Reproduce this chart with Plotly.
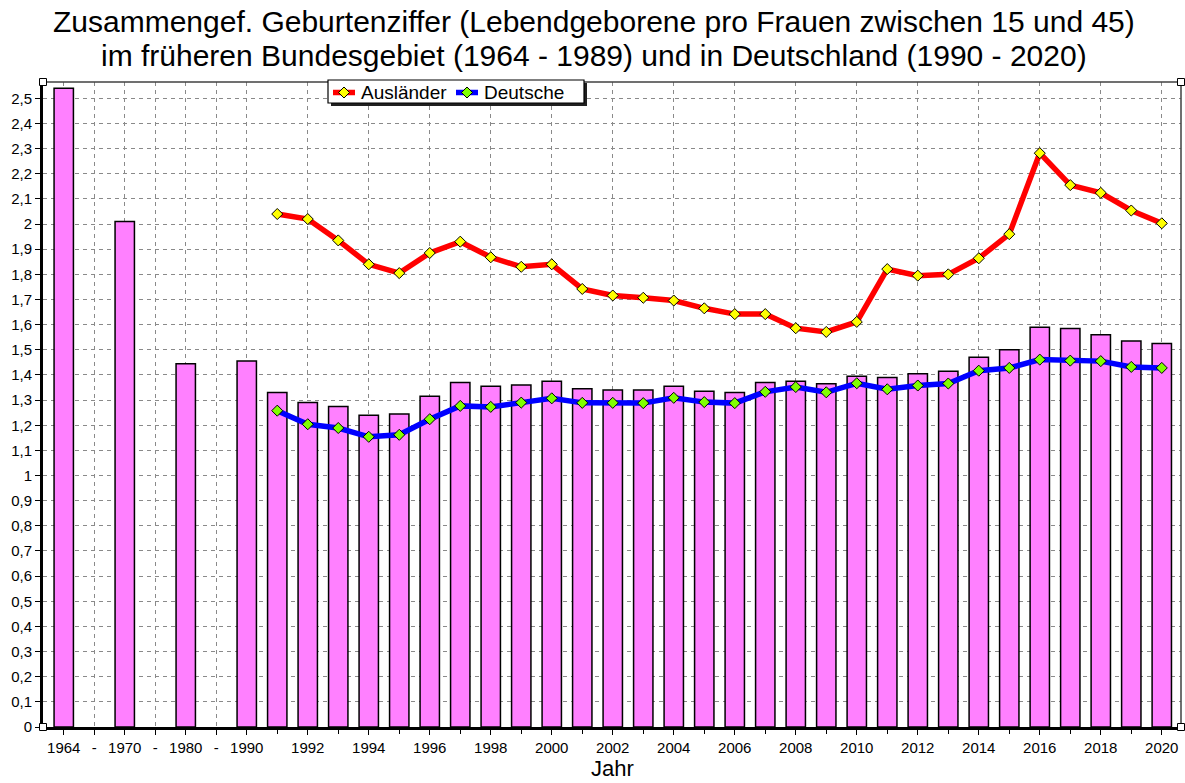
import plotly.graph_objects as go

# ---- data ----
categories = ["1964", "-", "1970", "-", "1980", "-", "1990",
              "1991", "1992", "1993", "1994", "1995", "1996", "1997", "1998", "1999", "2000",
              "2001", "2002", "2003", "2004", "2005", "2006", "2007", "2008", "2009", "2010",
              "2011", "2012", "2013", "2014", "2015", "2016", "2017", "2018", "2019", "2020"]

gesamt = [2.54, None, 2.01, None, 1.445, None, 1.455,
          1.33, 1.29, 1.275, 1.24, 1.245, 1.315, 1.37, 1.355, 1.36, 1.375,
          1.345, 1.34, 1.34, 1.355, 1.335, 1.33, 1.37, 1.375, 1.365, 1.395,
          1.39, 1.405, 1.415, 1.47, 1.50, 1.59, 1.585, 1.56, 1.535, 1.525]

line_years = categories[7:]
auslaender = [2.04, 2.02, 1.935, 1.84, 1.805, 1.885, 1.93, 1.868, 1.83, 1.84,
              1.742, 1.716, 1.707, 1.696, 1.665, 1.642, 1.642, 1.586, 1.571, 1.611,
              1.821, 1.795, 1.80, 1.864, 1.96, 2.282, 2.155, 2.124, 2.054, 2.003]
deutsche = [1.258, 1.204, 1.189, 1.154, 1.162, 1.224, 1.277, 1.273, 1.29, 1.307,
            1.289, 1.289, 1.288, 1.309, 1.292, 1.288, 1.333, 1.352, 1.331, 1.367,
            1.343, 1.358, 1.366, 1.417, 1.428, 1.461, 1.457, 1.455, 1.432, 1.428]

series_names = ["Ausländer", "Deutsche"]
y_ticks = [round(i * 0.1, 1) for i in range(26)]

title_lines = ["Zusammengef. Geburtenziffer (Lebendgeborene pro Frauen zwischen 15 und 45)",
               "im früheren Bundesgebiet (1964 - 1989) und in Deutschland (1990 - 2020)"]
x_title = "Jahr"

# ---- positions derived from the category list ----
xpos = list(range(len(categories)))
line_x = [categories.index(y) for y in line_years]
tick_idx = [i for i in xpos if i <= 6 or (i > 6 and int(categories[i]) % 2 == 0)]
tick_txt = [categories[i] for i in tick_idx]

W, H = 1185, 783
ML, MR, MT, MB = 43, 4, 82, 56
PW, PH = W - ML - MR, H - MT - MB

line_colors = ["#FF0000", "#0000FF"]
marker_colors = ["#FFFF00", "#80FF00"]

fig = go.Figure()
fig.add_trace(go.Bar(
    x=xpos, y=gesamt, width=0.635, showlegend=False, name="Gesamt",
    marker=dict(color="#FF80FF", line=dict(color="#000000", width=1.5)),
))
for name, vals, lc, mc in zip(series_names, [auslaender, deutsche], line_colors, marker_colors):
    fig.add_trace(go.Scatter(
        x=line_x, y=vals, mode="lines+markers", name=name, showlegend=False,
        line=dict(color=lc, width=5.5),
        marker=dict(symbol="diamond", size=8.5, color=mc, line=dict(color="#000000", width=1)),
    ))

font_family = "Liberation Sans, Arial, sans-serif"


def px2x(px):
    return (px - ML) / PW


def py2y(py):
    return (H - MB - py) / PH


shapes = []
# top and right frame lines
shapes.append(dict(type="line", xref="paper", yref="paper", x0=0, x1=1, y0=1, y1=1,
                   line=dict(color="#404040", width=1.5), layer="above"))
shapes.append(dict(type="line", xref="paper", yref="paper", x0=1, x1=1, y0=0, y1=1,
                   line=dict(color="#404040", width=1.5), layer="above"))
# corner squares
for cx, cy in [(0, 0), (0, 1), (1, 0), (1, 1)]:
    shapes.append(dict(type="rect", xref="paper", yref="paper",
                       xsizemode="pixel", ysizemode="pixel", xanchor=cx, yanchor=cy,
                       x0=-3.5, x1=3.5, y0=-3.5, y1=3.5,
                       fillcolor="white", line=dict(color="black", width=1), layer="above"))

# legend box (drawn as shapes so it matches the compact original)
lx0, lx1, ly0, ly1 = 328, 584, 80, 103
shapes.append(dict(type="rect", xref="paper", yref="paper",
                   x0=px2x(lx0 + 3), x1=px2x(lx1 + 3), y0=py2y(ly1 + 3), y1=py2y(ly0 + 3),
                   fillcolor="#202020", line=dict(width=0), layer="above"))
shapes.append(dict(type="rect", xref="paper", yref="paper",
                   x0=px2x(lx0), x1=px2x(lx1), y0=py2y(ly1), y1=py2y(ly0),
                   fillcolor="white", line=dict(color="#000000", width=1.2), layer="above"))
leg_y = 92.5
leg_items = [(333, 355, 359), (456, 478, 481.5)]
annotations = []
for (sx0, sx1, tx), name, lc, mc in zip(leg_items, series_names, line_colors, marker_colors):
    shapes.append(dict(type="line", xref="paper", yref="paper",
                       x0=px2x(sx0), x1=px2x(sx1), y0=py2y(leg_y), y1=py2y(leg_y),
                       line=dict(color=lc, width=5.5), layer="above"))
    shapes.append(dict(type="path", xref="paper", yref="paper",
                       xsizemode="pixel", ysizemode="pixel",
                       xanchor=px2x((sx0 + sx1) / 2), yanchor=py2y(leg_y),
                       path="M 0,5.5 L 5.5,0 L 0,-5.5 L -5.5,0 Z",
                       fillcolor=mc, line=dict(color="#000000", width=1), layer="above"))
    annotations.append(dict(text=name, xref="paper", yref="paper", x=px2x(tx), y=py2y(leg_y),
                            xanchor="left", yanchor="middle", showarrow=False,
                            font=dict(size=19, family=font_family, color="#000000")))

annotations += [
    dict(text=title_lines[0], xref="paper", yref="paper", x=px2x(594), y=py2y(21),
         xanchor="center", yanchor="middle", showarrow=False,
         font=dict(size=30, family=font_family, color="#000000")),
    dict(text=title_lines[1], xref="paper", yref="paper", x=px2x(594), y=py2y(55),
         xanchor="center", yanchor="middle", showarrow=False,
         font=dict(size=30, family=font_family, color="#000000")),
    dict(text=x_title, xref="paper", yref="paper", x=0.5, y=py2y(768),
         xanchor="center", yanchor="middle", showarrow=False,
         font=dict(size=22, family=font_family, color="#000000")),
]

fig.update_layout(
    width=W, height=H,
    margin=dict(l=ML, r=MR, t=MT, b=MB, autoexpand=False),
    paper_bgcolor="white", plot_bgcolor="white",
    separators=",.",
    font=dict(family=font_family, color="#000000"),
    showlegend=False,
    hovermode=False,
    shapes=shapes,
    annotations=annotations,
)

fig.update_xaxes(
    range=[-0.68, 36.63], tickmode="array", tickvals=tick_idx, ticktext=tick_txt,
    showgrid=True, gridcolor="#8a8a8a", griddash="4px,4px", gridwidth=1,
    showline=True, linecolor="#000000", linewidth=3,
    ticks="outside", ticklen=5, tickcolor="#000000", tickwidth=1,
    minor=dict(dtick=1, tick0=0, ticks="outside", ticklen=4, tickcolor="#000000", showgrid=False),
    tickfont=dict(size=15, family=font_family, color="#000000"),
    zeroline=False, automargin=False,
)
fig.update_yaxes(
    range=[0, 2.565], tickmode="array", tickvals=y_ticks,
    ticktext=[("%g" % v).replace(".", ",") for v in y_ticks],
    showgrid=True, gridcolor="#8a8a8a", griddash="4px,4px", gridwidth=1,
    showline=True, linecolor="#000000", linewidth=3,
    ticks="outside", ticklen=5, tickcolor="#000000", tickwidth=1,
    tickfont=dict(size=15, family=font_family, color="#000000"),
    zeroline=False, automargin=False,
)

fig.write_html("out.html", config={"displayModeBar": False},
               post_script="document.body.style.margin='0';document.body.style.overflow='hidden';")
